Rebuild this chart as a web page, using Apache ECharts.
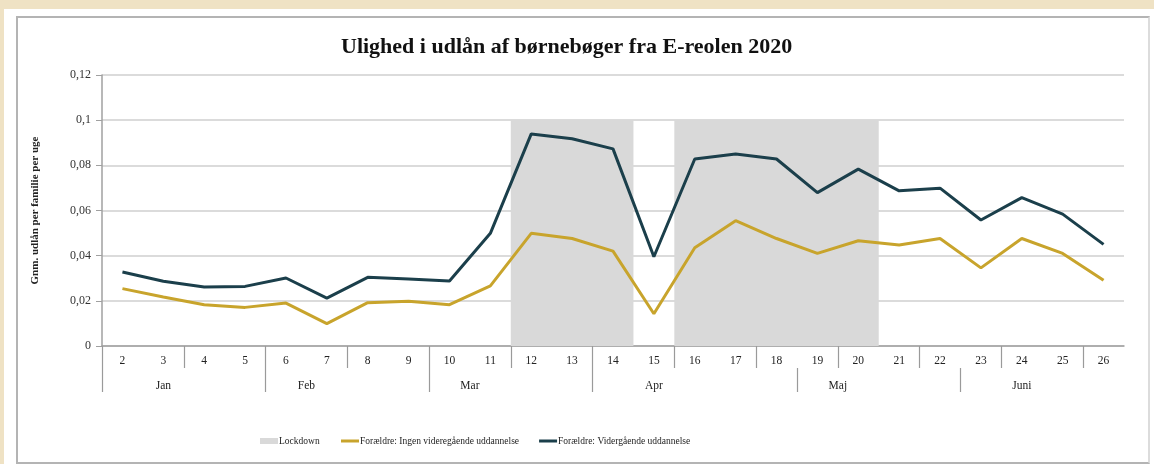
<!DOCTYPE html>
<html>
<head>
<meta charset="utf-8">
<script src="https://cdn.jsdelivr.net/npm/echarts@6/dist/echarts.min.js"></script>
<style>
  html, body { margin:0; padding:0; background:#efe2c4; width:1154px; height:464px; overflow:hidden; }
  #paper { position:absolute; left:4px; top:9px; width:1150px; height:455px; background:#ffffff; }
  #frame { position:absolute; left:16px; top:16px; width:1130px; height:444px; border:2px solid #b4b4b4; border-right-color:#dcdcdc; background:#ffffff; }
  #chart { position:absolute; left:0; top:0; width:1154px; height:464px; }
</style>
</head>
<body>
<div id="paper"></div>
<div id="frame"></div>
<div id="chart"></div>
<script>
const titleText = 'Ulighed i udlån af børnebøger fra E-reolen 2020';
const yAxisName = 'Gnm. udlån per familie per uge';
const weeks = ['2','3','4','5','6','7','8','9','10','11','12','13','14','15','16','17','18','19','20','21','22','23','24','25','26'];
const ingenVideregaaende = [0.0254,0.0217,0.0183,0.0171,0.0190,0.0099,0.0192,0.0198,0.0183,0.0266,0.0499,0.0476,0.0420,0.0143,0.0435,0.0555,0.0476,0.0410,0.0466,0.0447,0.0476,0.0346,0.0476,0.0410,0.0291];
const videregaaende = [0.0328,0.0287,0.0261,0.0264,0.0301,0.0212,0.0304,0.0297,0.0288,0.0499,0.0939,0.0918,0.0873,0.0395,0.0828,0.0850,0.0828,0.0679,0.0783,0.0687,0.0699,0.0558,0.0657,0.0584,0.0450];
const lockdownStart = ['12','16'];   // first lockdown week of each period
const lockdownEnd = ['14','20'];     // last lockdown week of each period
const lockdownLevel = 0.1;           // height of the shaded band
const monthNames = ['Jan','Feb','Mar','Apr','Maj','Juni'];
const monthStarts = [0,4,8,12,17,21];          // week-slot boundaries where a month starts
const monthLabelPos = [1.5,5,9,13.5,18,22.5];  // label positions in week-slot units
const weekSeparators = [0,2,4,6,8,10,12,14,16,18,20,22,24]; // separators in the week row
const seriesNames = ['Lockdown','Forældre: Ingen videregående uddannelse','Forældre: Vidergående uddannelse'];

const lockdownData = lockdownStart.map(function (s, i) {
  return [weeks.indexOf(s), weeks.indexOf(lockdownEnd[i]), lockdownLevel];
});

const serif = '"Liberation Serif", "DejaVu Serif", serif';
const legendText = { fontFamily: serif, fontSize: 9.5, color: '#222', padding: [0,0,0,-4] };
const chart = echarts.init(document.getElementById('chart'), null, {renderer:'canvas'});
chart.setOption({
  backgroundColor: 'transparent',
  animation: false,
  title: {
    text: titleText, left: 336, top: 31,
    textStyle: { fontFamily: serif, fontSize: 22, fontWeight: 'bold', color: '#111' }
  },
  legend: [
    { left: 255, top: 431, itemWidth: 18, itemHeight: 6, textStyle: legendText,
      data: [{ name: seriesNames[0], icon: 'rect' }] },
    { left: 336, top: 431, itemGap: 20, itemWidth: 18, itemHeight: 3, textStyle: legendText,
      data: [{ name: seriesNames[1], icon: 'rect' }, { name: seriesNames[2], icon: 'rect' }] }
  ],
  grid: { left: 102, right: 30, top: 75, bottom: 118, containLabel: false },
  xAxis: [
    {
      type: 'category', data: weeks, boundaryGap: true,
      axisLine: { lineStyle: { color: '#a0a0a0', width: 1.5 } },
      axisTick: { show: false },
      axisLabel: { interval: 0, fontFamily: serif, fontSize: 11.5, color: '#222', margin: 9 },
      splitLine: { show: false }
    },
    {
      type: 'value', position: 'bottom', offset: 0, min: 0, max: weeks.length,
      axisLine: { show: false },
      axisTick: { show: true, length: 22, customValues: weekSeparators, lineStyle: { color: '#9a9a9a', width: 1.2 } },
      axisLabel: { show: false },
      splitLine: { show: false }
    },
    {
      type: 'value', position: 'bottom', offset: 22, min: 0, max: weeks.length,
      axisLine: { show: false },
      axisTick: { show: true, length: 24, customValues: monthStarts, lineStyle: { color: '#9a9a9a', width: 1.2 } },
      axisLabel: {
        customValues: monthLabelPos, fontFamily: serif, fontSize: 11.5, color: '#222', margin: 12,
        formatter: function (v) { const k = monthLabelPos.indexOf(v); return k >= 0 ? monthNames[k] : ''; }
      },
      splitLine: { show: false }
    }
  ],
  yAxis: {
    type: 'value', min: 0, max: 0.12, interval: 0.02,
    name: yAxisName, nameLocation: 'middle', nameGap: 61, nameRotate: 90,
    nameTextStyle: { fontFamily: serif, fontSize: 11, fontWeight: 'bold', color: '#222' },
    axisLine: { show: true, lineStyle: { color: '#a0a0a0', width: 1.5 } },
    axisTick: { show: true, length: 6, lineStyle: { color: '#a0a0a0' } },
    axisLabel: { fontFamily: serif, fontSize: 12, color: '#333', margin: 11,
      formatter: function (v) { return String(Math.round(v*100)/100).replace('.', ','); } },
    splitLine: { lineStyle: { color: '#cfcfcf', width: 1.5 } }
  },
  series: [
    { name: seriesNames[0], type: 'custom', data: lockdownData, silent: true,
      encode: { x: [0, 1], y: 2 },
      itemStyle: { color: '#d9d9d9' },
      renderItem: function (params, api) {
        const top = api.coord([api.value(0), api.value(2)]);
        const bottom = api.coord([api.value(1), 0]);
        const w = api.size([1, 0])[0];
        return {
          type: 'rect',
          shape: { x: top[0] - w / 2, y: top[1], width: bottom[0] - top[0] + w, height: bottom[1] - top[1] },
          style: { fill: '#d9d9d9' }
        };
      }
    },
    { name: seriesNames[1], type: 'line', data: ingenVideregaaende, symbol: 'none',
      lineStyle: { color: '#c8a42c', width: 3 }, itemStyle: { color: '#c8a42c' } },
    { name: seriesNames[2], type: 'line', data: videregaaende, symbol: 'none',
      lineStyle: { color: '#1b3f4b', width: 3 }, itemStyle: { color: '#1b3f4b' } }
  ]
});
</script>
</body>
</html>
